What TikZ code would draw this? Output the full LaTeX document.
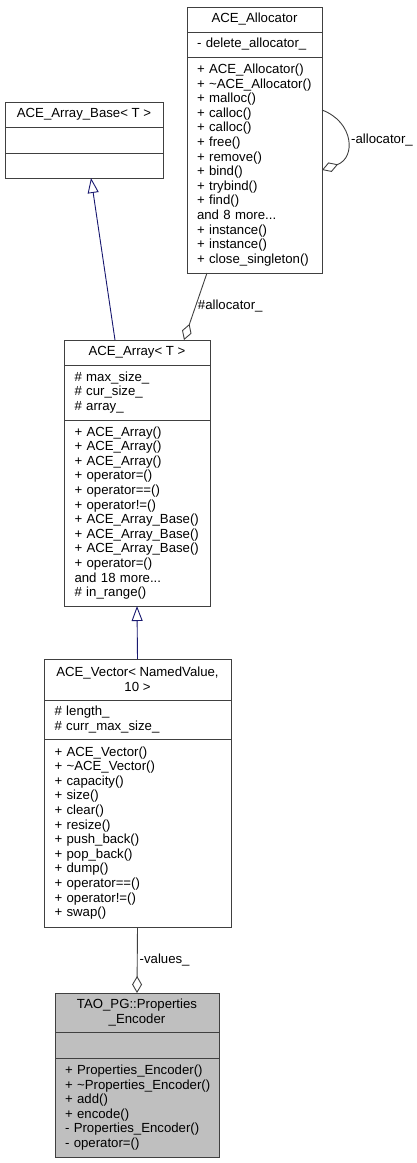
\documentclass[tikz,border=0pt]{standalone}
\usepackage{fontspec}
\setmainfont{Liberation Sans}
\usetikzlibrary{positioning,arrows.meta}
\definecolor{edgeblue}{HTML}{191970}
\definecolor{edgegray}{HTML}{404040}
\newcommand{\classfont}{\fontsize{13.2}{14.6}\selectfont}
\hyphenpenalty 10000
\exhyphenpenalty 10000
\tikzstyle{classpart} = [rectangle, draw=black!75, line width=0.9pt, outer sep=0pt, inner xsep=10pt, inner ysep=0pt, font=\classfont, fill=white]
\tikzstyle{classtitle} = [classpart, anchor=north west, align=center]
\tikzstyle{classlist} = [classpart, align=left]
\tikzstyle{inherit} = [draw=edgeblue, line width=0.9pt, -{Triangle[open,length=15pt,width=11pt]}]
\tikzstyle{aggr} = [draw=edgegray, line width=0.9pt, -{Diamond[open,length=17pt,width=10pt]}]
\tikzstyle{edgelabel} = [font=\classfont, inner sep=2pt]

\begin{document}
\begin{tikzpicture}[x=1pt, y=-1pt, node distance=0pt]
      \useasboundingbox (0,0) rectangle (417,1163);
      % ACE_Allocator
      \node (alloct)[classtitle, minimum width=135pt, minimum height=25pt] at (187,7) {ACE\_Allocator};
      \node (alloca)[classlist, below=of alloct, minimum width=135pt, text width=115pt, minimum height=25pt] {- delete\_allocator\_};
      \node (allocm)[classlist, below=of alloca, minimum width=135pt, text width=115pt, minimum height=216pt] {+ ACE\_Allocator()\\+~\textasciitilde ACE\_Allocator()\\+ malloc()\\+ calloc()\\+ calloc()\\+ free()\\+ remove()\\+ bind()\\+ trybind()\\+ find()\\and 8 more...\\+ instance()\\+ instance()\\+ close\_singleton()};
      % ACE_Array_Base
      \node (baset)[classtitle, minimum width=158pt, minimum height=25pt] at (5,102) {ACE\_Array\_Base< T >};
      \node (basea)[classlist, below=of baset, minimum width=158pt, minimum height=26pt] {};
      \node (basem)[classlist, below=of basea, minimum width=158pt, minimum height=25pt] {};
      % ACE_Array
      \node (arrt)[classtitle, minimum width=146pt, minimum height=25pt] at (64,340) {ACE\_Array< T >};
      \node (arra)[classlist, below=of arrt, minimum width=146pt, text width=125pt, minimum height=55pt] {\# max\_size\_\\\# cur\_size\_\\\# array\_};
      \node (arrm)[classlist, below=of arra, minimum width=146pt, text width=125pt, minimum height=186pt] {+ ACE\_Array()\\+ ACE\_Array()\\+ ACE\_Array()\\+ operator=()\\+ operator==()\\+ operator!=()\\+ ACE\_Array\_Base()\\+ ACE\_Array\_Base()\\+ ACE\_Array\_Base()\\+ operator=()\\and 18 more...\\\# in\_range()};
      % ACE_Vector
      \node (vect)[classtitle, minimum width=187pt, minimum height=41pt] at (44,659) {ACE\_Vector< NamedValue,\\10 >};
      \node (veca)[classlist, below=of vect, minimum width=187pt, text width=166pt, minimum height=39pt] {\# length\_\\\# curr\_max\_size\_};
      \node (vecm)[classlist, below=of veca, minimum width=187pt, text width=166pt, minimum height=188pt] {+ ACE\_Vector()\\+~\textasciitilde ACE\_Vector()\\+ capacity()\\+ size()\\+ clear()\\+ resize()\\+ push\_back()\\+ pop\_back()\\+ dump()\\+ operator==()\\+ operator!=()\\+ swap()};
      % TAO_PG::Properties_Encoder
      \node (enct)[classtitle, fill=black!25, minimum width=164pt, minimum height=39pt] at (55,993) {TAO\_PG::Properties\\\_Encoder};
      \node (enca)[classlist, fill=black!25, below=of enct, minimum width=164pt, minimum height=26pt] {};
      \node (encm)[classlist, fill=black!25, below=of enca, minimum width=164pt, text width=144pt, minimum height=99pt] {+~Properties\_Encoder()\\+~\textasciitilde Properties\_Encoder()\\+ add()\\+ encode()\\-~Properties\_Encoder()\\- operator=()};
      % relations
      \draw [inherit]([xshift=-22pt]arrt.north)--([xshift=7pt]basem.south);
      \draw [inherit](vect.north)--(arrm.south);
      \draw [aggr]([xshift=-47.5pt]allocm.south)--([xshift=47pt]arrt.north) node[edgelabel, midway, right]{\#allocator\_};
      \draw [aggr]([yshift=-53pt]allocm.north east) .. controls (354,122) and (356,158) .. ([yshift=-113pt]allocm.north east) node[edgelabel, pos=0.5, right, xshift=2pt]{-allocator\_};
      \draw [aggr](vecm.south)--(enct.north) node[edgelabel, midway, right]{-values\_};
    \end{tikzpicture}
\end{document}
